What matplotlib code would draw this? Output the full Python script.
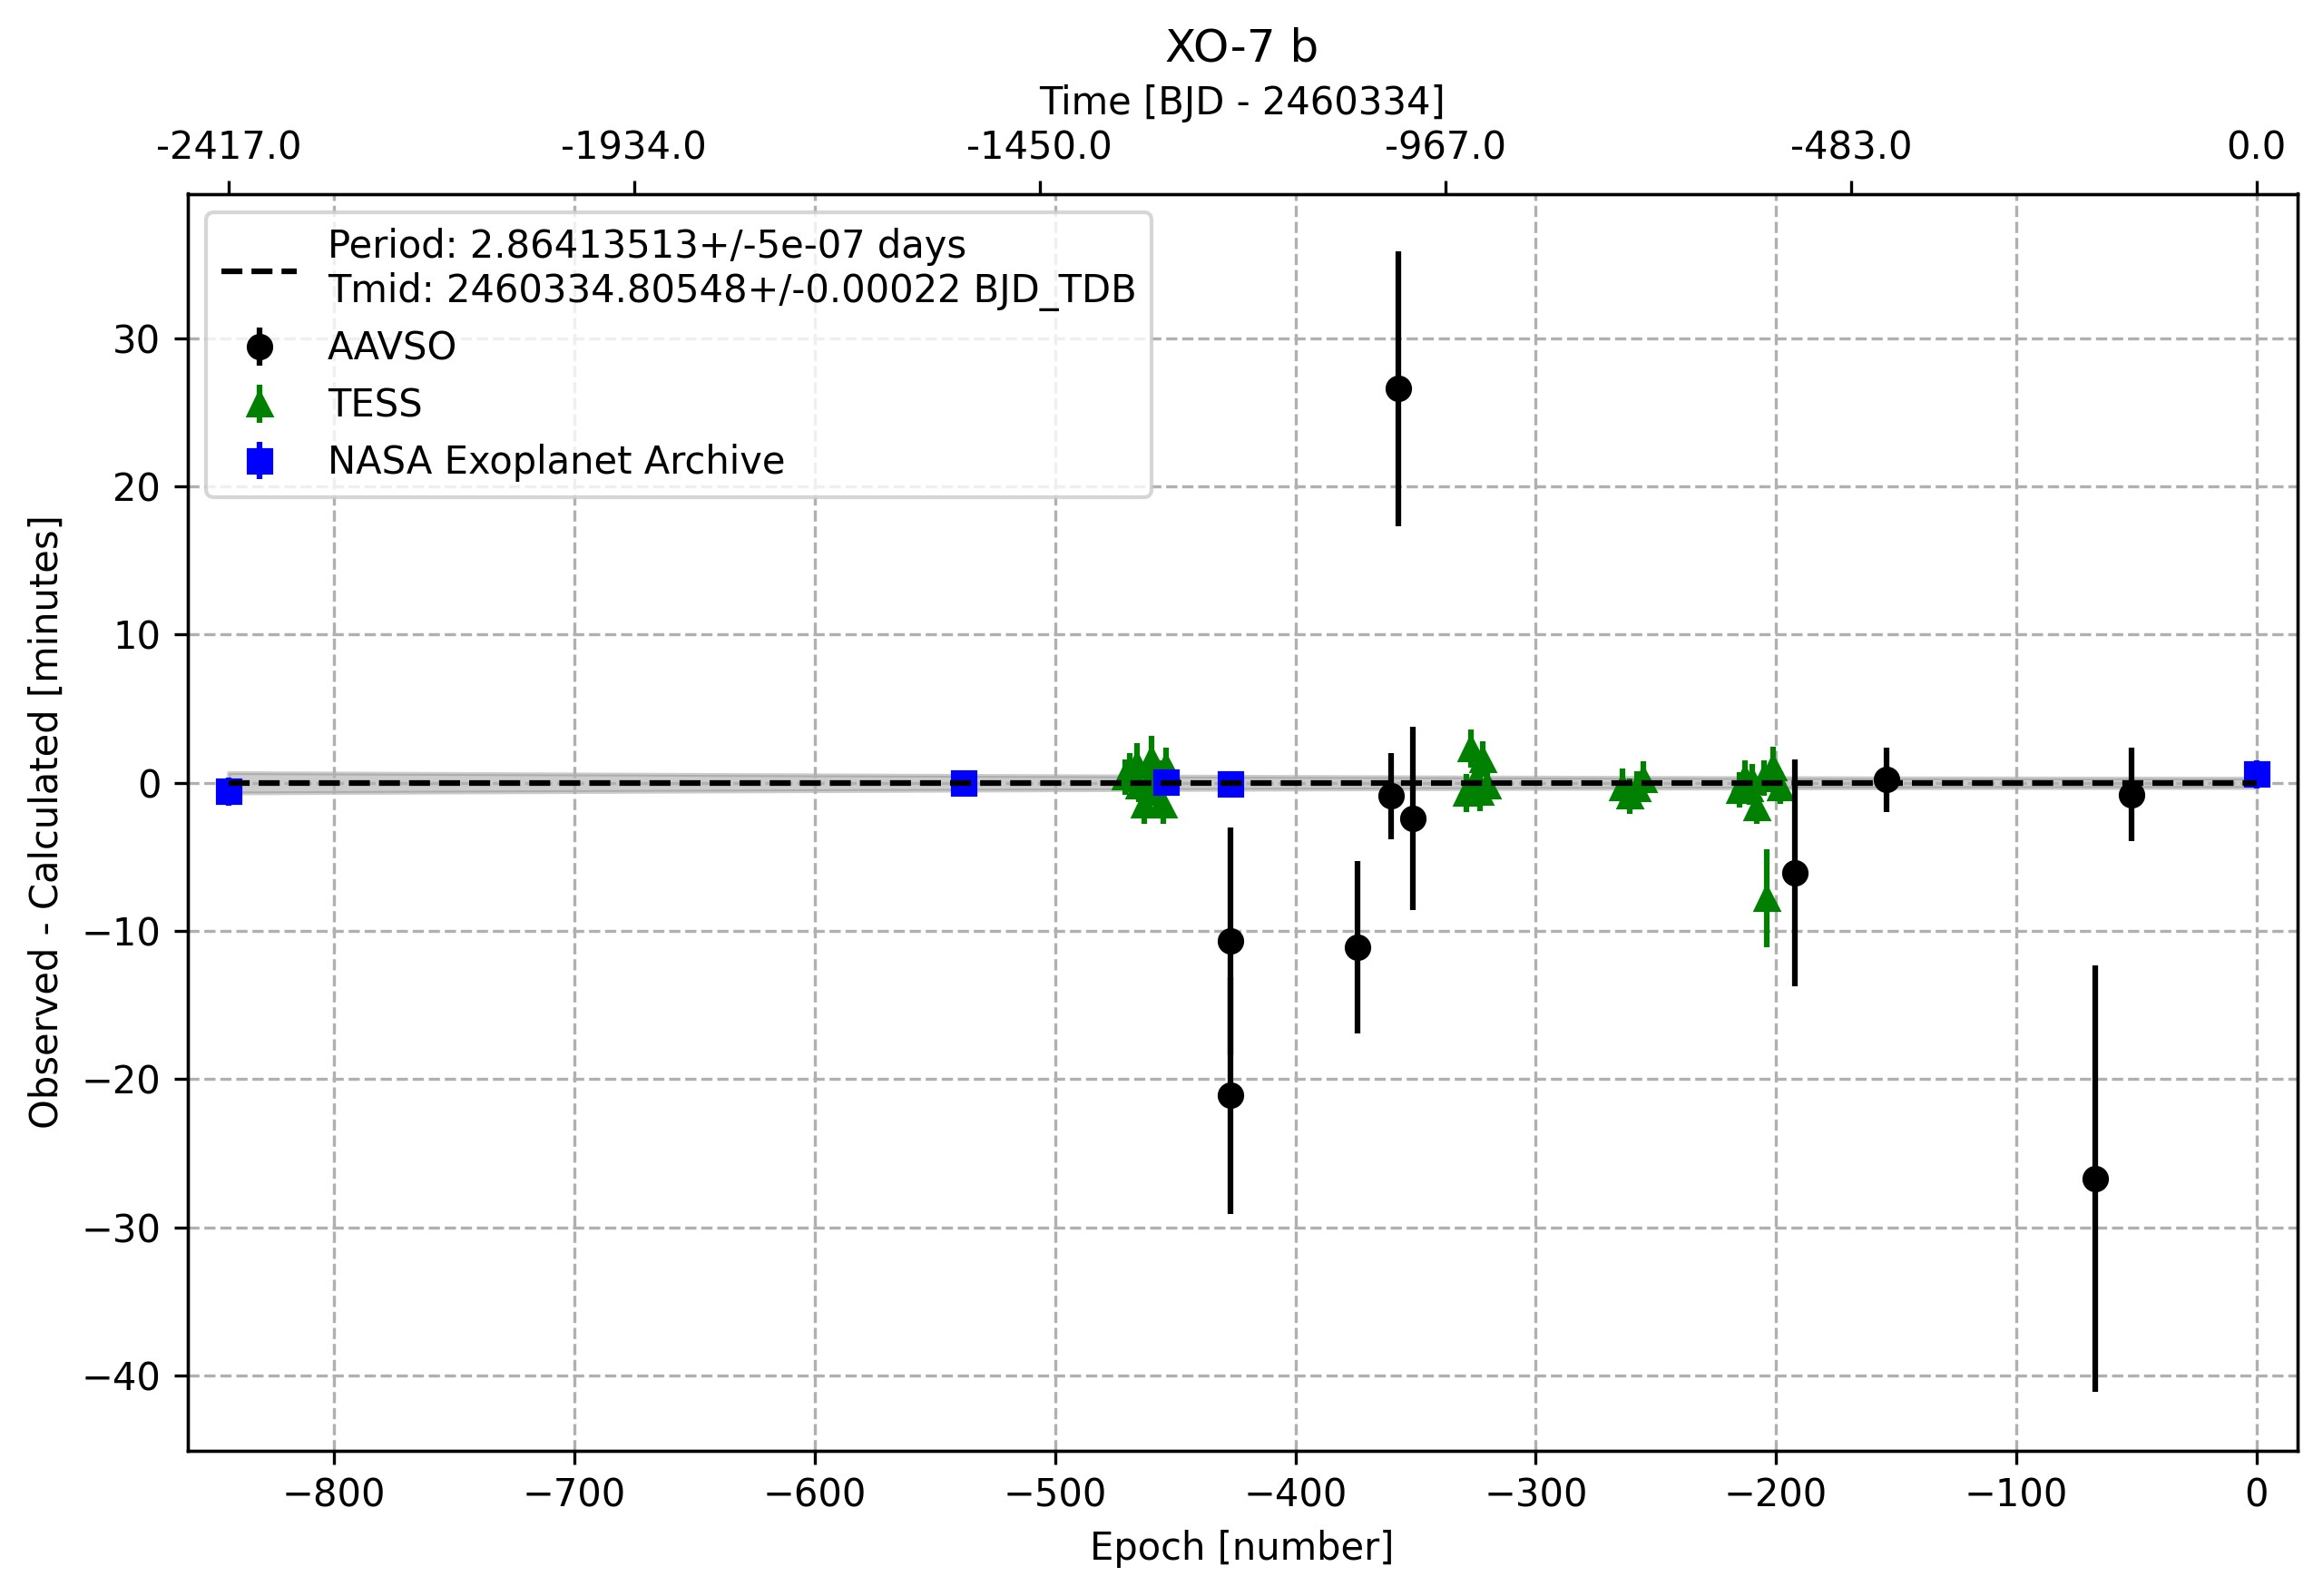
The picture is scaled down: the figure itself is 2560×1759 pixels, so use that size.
import numpy as np
import matplotlib
matplotlib.use("Agg")
import matplotlib.pyplot as plt

# ---------------- data ----------------
period = 2.86413513
period_err = 5e-07
tmid = 2460334.80548
tmid_err = 0.00022

aavso_epoch = [-427, -427, -374, -360, -357, -351, -192, -154, -67, -52]
aavso_oc = [-10.7, -21.1, -11.1, -0.9, 26.6, -2.4, -6.1, 0.2, -26.7, -0.8]
aavso_err = [7.7, 8.0, 5.8, 2.9, 9.3, 6.2, 7.65, 2.2, 14.4, 3.15]

tess_epoch = [-471, -469, -466, -465, -463, -461, -460, -458, -457, -455, -454,
              -329, -327, -325, -323, -322, -320,
              -264, -261, -258, -255,
              -215, -213, -211, -210, -208, -205, -204, -201, -198]
tess_oc = [0.4, 0.7, 1.2, -0.2, -1.5, 0.0, 1.6, -0.6, 0.3, -1.5, 1.1,
           -0.7, 2.3, 0.1, -0.6, 1.6, -0.2,
           -0.3, -0.9, -0.4, 0.2,
           -0.5, 0.3, -0.4, 0.1, -1.7, 0.3, -7.8, 1.0, -0.3]
tess_err = [1.2, 1.3, 1.5, 1.1, 1.3, 1.2, 1.55, 1.2, 1.2, 1.3, 1.3,
            1.3, 1.3, 1.2, 1.3, 1.2, 1.2,
            1.25, 1.2, 1.2, 1.27,
            1.2, 1.2, 1.1, 1.2, 1.1, 1.2, 3.3, 1.45, 1.1]

nasa_epoch = [-844, -538, -454, -427, 0]
nasa_oc = [-0.57, 0.0, 0.05, -0.05, 0.59]
nasa_err = [0.95, 0.6, 0.6, 0.6, 0.95]

top_tick_labels = ["-2417.0", "-1934.0", "-1450.0", "-967.0", "-483.0", "0.0"]

# ---------------- figure ----------------
W, H, DPI = 2560, 1759, 300
fig = plt.figure(figsize=(W / DPI, H / DPI), dpi=DPI)
ax = fig.add_axes([206.5 / W, (H - 1598.5) / H, 2325 / W, 1385 / H])

emin = min(nasa_epoch)
emax = max(nasa_epoch)
fit_epoch = np.linspace(emin, emax, 500)
fit_oc = np.zeros_like(fit_epoch)
band = np.sqrt(tmid_err ** 2 + (fit_epoch * period_err) ** 2) * 24 * 60

ax.fill_between(fit_epoch, fit_oc - band, fit_oc + band, color="grey", alpha=0.4, zorder=1)

ax.errorbar(aavso_epoch, aavso_oc, yerr=aavso_err, fmt="o", color="k", label="AAVSO", zorder=3)
ax.errorbar(tess_epoch, tess_oc, yerr=tess_err, fmt="^", color="g", label="TESS", zorder=2)
ax.errorbar(nasa_epoch, nasa_oc, yerr=nasa_err, fmt="s", color="b",
            label="NASA Exoplanet Archive", zorder=3)

ax.plot(fit_epoch, fit_oc, "k--",
        label=f"Period: {period}+/-{period_err} days\nTmid: {tmid:.5f}+/-{tmid_err} BJD_TDB",
        zorder=4)

ax.set_xlim(-861.1, 16.9)
ax.set_ylim(-45.06, 39.76)
ax.set_xlabel("Epoch [number]")
ax.set_ylabel("Observed - Calculated [minutes]")
ax.grid(True, linestyle="--")
ax.legend(loc="upper left")

ax2 = ax.twiny()
ax2.set_xlim(ax.get_xlim())
ax2.set_xticks(np.linspace(emin, emax, len(top_tick_labels)))
ax2.set_xticklabels(top_tick_labels)
ax2.set_xlabel("Time [BJD - 2460334]")
ax2.set_title("XO-7 b")

fig.savefig("out.png", dpi=DPI)
